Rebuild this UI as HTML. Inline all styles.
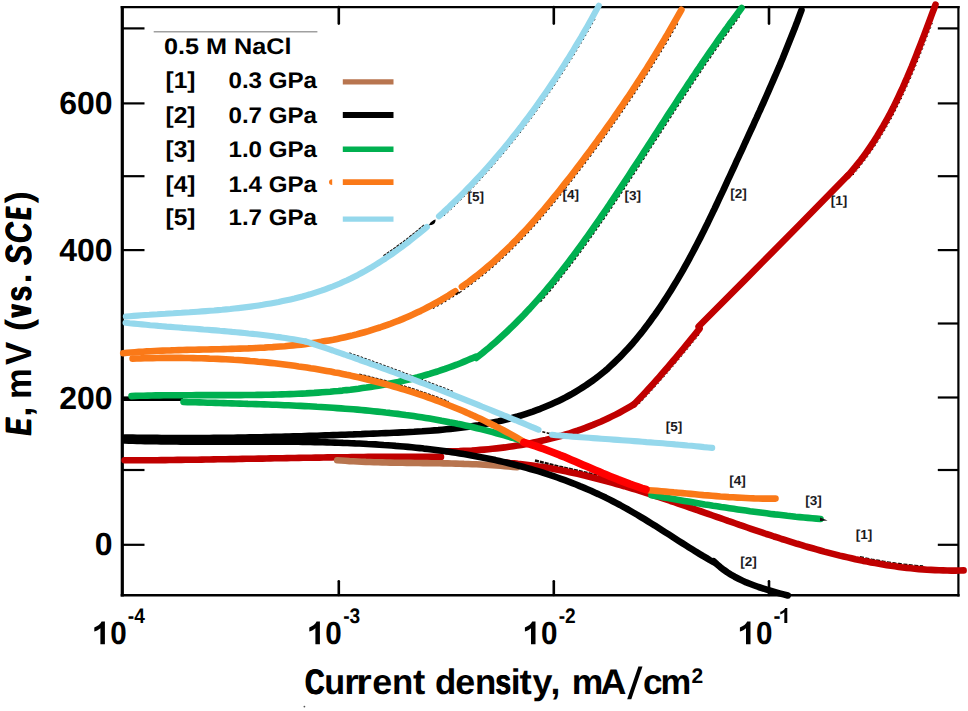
<!DOCTYPE html>
<html><head><meta charset="utf-8"><style>
html,body{margin:0;padding:0;background:#fff;}
body{width:968px;height:711px;overflow:hidden;font-family:"Liberation Sans",sans-serif;}
svg{display:block;}
</style></head><body>
<svg width="968" height="711" viewBox="0 0 968 711" text-rendering="geometricPrecision">
<rect width="968" height="711" fill="#fff"/>
<g stroke="#000" fill="none" stroke-linecap="butt">
<path d="M122.3 6 V596.5" stroke-width="3.2"/>
<path d="M120.7 7.1 H959.6" stroke-width="2.4"/>
<path d="M958.4 6 V596.5" stroke-width="2.2"/>
<path d="M120.7 595.2 H959.6" stroke-width="2.6"/>
<path d="M122 28.4 H144.5" stroke-width="2.2"/>
<path d="M937.8 28.4 H958.4" stroke-width="2.2"/>
<path d="M122 103.4 H144.5" stroke-width="2.2"/>
<path d="M937.8 103.4 H958.4" stroke-width="2.2"/>
<path d="M122 176.2 H144.5" stroke-width="2.2"/>
<path d="M937.8 176.2 H958.4" stroke-width="2.2"/>
<path d="M122 250.1 H144.5" stroke-width="2.2"/>
<path d="M937.8 250.1 H958.4" stroke-width="2.2"/>
<path d="M122 323.5 H144.5" stroke-width="2.2"/>
<path d="M937.8 323.5 H958.4" stroke-width="2.2"/>
<path d="M122 397.5 H144.5" stroke-width="2.2"/>
<path d="M937.8 397.5 H958.4" stroke-width="2.2"/>
<path d="M122 470.0 H144.5" stroke-width="2.2"/>
<path d="M937.8 470.0 H958.4" stroke-width="2.2"/>
<path d="M122 544.8 H144.5" stroke-width="2.2"/>
<path d="M937.8 544.8 H958.4" stroke-width="2.2"/>
<path d="M338.8 595 V581.3" stroke-width="2.6" stroke-linecap="round"/>
<path d="M338.8 7 V23.6" stroke-width="2.6" stroke-linecap="round"/>
<path d="M553.8 595 V581.3" stroke-width="2.6" stroke-linecap="round"/>
<path d="M553.8 7 V23.6" stroke-width="2.6" stroke-linecap="round"/>
<path d="M769.0 595 V581.3" stroke-width="2.6" stroke-linecap="round"/>
<path d="M769.0 7 V23.6" stroke-width="2.6" stroke-linecap="round"/>
<path d="M122 399.6 H183" stroke-width="3"/>
</g>
<path d="M153.7 31.8 H317.4" stroke="#a0a0a0" stroke-width="1.6"/>
<path d="M342.8 81.9 H393.5" stroke="#b8754f" stroke-width="5.2"/>
<path d="M342.8 115.0 H393.5" stroke="#000000" stroke-width="5.8"/>
<path d="M342.8 149.3 H393.5" stroke="#00b050" stroke-width="5.6"/>
<path d="M342.8 182.1 H393.5" stroke="#fa7918" stroke-width="5.6"/>
<path d="M342.8 219.2 H393.5" stroke="#95d8ec" stroke-width="5.2"/>
<path d="M332.2 179.2 A3.2 2.9 0 0 0 332.2 185 Z" fill="#fa7918"/>
<g fill="none" stroke-linecap="butt" stroke="#140a05">
<path d="M349.3 353.0 L353.1 354.3 L357.0 355.7 L360.8 357.0 L364.7 358.4 L368.5 359.8 L372.4 361.2 L376.2 362.6 L380.1 364.0 L383.9 365.4 L387.8 366.8 L391.6 368.2 L395.4 369.6 L399.3 371.0 L403.1 372.5 L406.9 373.9 L410.7 375.3 L414.6 376.8 L418.4 378.2 L422.2 379.7 L426.0 381.2 L429.8 382.6 L433.7 384.1 L437.5 385.6 L441.3 387.0 L445.1 388.5 L448.9 390.0 L452.7 391.5" stroke-width="1.4" stroke-dasharray="2.5 1.5"/>
<path d="M383.5 255.9 L386.8 253.7 L390.1 251.4 L393.3 249.2 L396.6 246.8 L399.8 244.5 L403.0 242.1 L406.2 239.7 L409.3 237.2 L412.4 234.7 L415.6 232.2 L418.7 229.7 L421.7 227.1 L424.8 224.5" stroke-width="1.6" stroke-dasharray="3 1"/>
<path d="M359.2 374.3 L363.2 375.2 L367.1 376.1 L371.1 377.1 L375.0 378.1 L379.0 379.1 L382.9 380.1 L386.8 381.2 L390.8 382.3 L394.7 383.4 L398.6 384.5 L402.5 385.7 L406.4 386.9 L410.3 388.1 L414.1 389.3 L418.0 390.6 L421.9 391.9 L425.7 393.2 L429.6 394.6 L433.4 395.9 L437.2 397.3 L441.1 398.8 L444.9 400.2 L448.7 401.7" stroke-width="1.6" stroke-dasharray="3 1.2"/>
<path d="M535.0 460.5 L560.0 466.8 L590.0 473.6 L612.0 479.6" stroke-width="2.5" stroke-dasharray="4 1"/>
<path d="M538.0 430.5 L548.0 433.2 L560.0 434.6 L580.0 436.6 L606.0 437.8" stroke-width="1.6" stroke-dasharray="3 1.5"/>
<path d="M540.4 301.9 L543.1 298.9 L545.7 295.8 L548.4 292.8 L551.0 289.7 L553.6 286.5 L556.1 283.4 L558.7 280.3 L561.2 277.1 L563.7 273.9 L566.2 270.7 L568.7 267.5 L571.2 264.3 L573.6 261.1 L576.1 257.8 L578.5 254.6 L580.9 251.3 L583.3 248.0 L585.7 244.8 L588.1 241.5 L590.4 238.2 L592.8 234.9 L595.1 231.5 L597.4 228.2 L599.8 224.9 L602.1 221.5 L604.4 218.2 L606.7 214.8 L609.0 211.5 L611.3 208.1 L613.5 204.7 L615.8 201.4 L618.1 198.0 L620.3 194.6 L622.6 191.2 L624.8 187.8 L627.0 184.5 L629.3 181.1 L631.5 177.7 L633.7 174.3 L636.0 170.9 L638.2 167.5 L640.4 164.0 L642.6 160.6 L644.8 157.2 L647.0 153.8 L649.2 150.4 L651.4 147.0 L653.6 143.6 L655.8 140.2 L658.1 136.8 L660.3 133.3 L662.5 129.9 L664.7 126.5 L666.9 123.1 L669.1 119.7 L671.3 116.3 L673.5 112.9 L675.7 109.5 L677.9 106.1 L680.1 102.7 L682.3 99.3 L684.6 96.0 L686.8 92.6 L689.0 89.2 L691.2 85.8 L693.5 82.5 L695.7 79.1 L698.0 75.7 L700.2 72.4 L702.5 69.0 L704.7 65.7 L707.0 62.4 L709.3 59.0 L711.6 55.7 L713.8 52.4 L716.1 49.1 L718.5 45.8 L720.8 42.5 L723.1 39.2 L725.4 35.9 L727.8 32.7 L730.1 29.4 L732.5 26.2 L734.8 22.9 L737.2 19.7 L739.6 16.5" stroke-width="1.3" stroke-dasharray="2.5 2"/>
<path d="M432.9 308.5 L436.4 306.6 L440.0 304.6 L443.5 302.6 L446.9 300.5 L450.4 298.4 L453.8 296.3 L457.2 294.1 L460.5 291.9 L463.9 289.6 L467.2 287.2 L470.4 284.9 L473.7 282.5 L476.9 280.0 L480.1 277.5 L483.2 275.0 L486.4 272.4 L489.5 269.8 L492.6 267.2 L495.6 264.5 L498.6 261.8 L501.7 259.0 L504.6 256.3 L507.6 253.5 L510.5 250.6 L513.4 247.8 L516.3 244.9 L519.2 242.0 L522.0 239.0 L524.8 236.0 L527.7 233.1 L530.4 230.0 L533.2 227.0 L535.9 224.0 L538.7 220.9 L541.4 217.8 L544.1 214.7 L546.7 211.6 L549.4 208.4 L552.0 205.3 L554.6 202.1 L557.2 198.9 L559.8 195.7 L562.4 192.5 L564.9 189.3 L567.5 186.1 L570.0 182.9 L572.5 179.6 L575.0 176.4 L577.5 173.2 L580.0 169.9 L582.5 166.7 L585.0 163.4 L587.4 160.2 L589.8 156.9 L592.3 153.6 L594.7 150.4 L597.1 147.1 L599.5 143.8 L601.9 140.6 L604.2 137.3 L606.6 134.0 L609.0 130.7 L611.3 127.4 L613.6 124.1 L615.9 120.8 L618.2 117.5 L620.5 114.2 L622.8 110.9 L625.1 107.5 L627.4 104.2 L629.6 100.9 L631.9 97.5 L634.1 94.2 L636.3 90.8 L638.5 87.5 L640.7 84.1 L642.9 80.7 L645.1 77.3 L647.3 73.9 L649.4 70.5 L651.6 67.1 L653.7 63.7 L655.8 60.3 L657.9 56.9 L660.0 53.4 L662.1 50.0 L664.2 46.5 L666.3 43.1 L668.3 39.6 L670.4 36.1 L672.4 32.6 L674.5 29.1 L676.5 25.6 L678.5 22.1" stroke-width="1.2" stroke-dasharray="2 2.5"/>
<path d="M444.1 215.9 L447.1 213.2 L450.1 210.4 L453.0 207.6 L456.0 204.8 L458.9 202.0 L461.8 199.1 L464.6 196.2 L467.5 193.3 L470.3 190.4 L473.2 187.5 L476.0 184.6 L478.7 181.6 L481.5 178.6 L484.2 175.6 L487.0 172.6 L489.7 169.6 L492.4 166.6 L495.1 163.5 L497.7 160.4 L500.3 157.3 L503.0 154.2 L505.6 151.1 L508.2 148.0 L510.7 144.8 L513.3 141.7 L515.8 138.5 L518.3 135.3 L520.8 132.1 L523.3 128.9 L525.8 125.7 L528.2 122.4 L530.7 119.2 L533.1 115.9 L535.5 112.7 L537.9 109.4 L540.2 106.1 L542.6 102.8 L544.9 99.5 L547.2 96.1 L549.5 92.8 L551.8 89.5 L554.1 86.1 L556.3 82.7 L558.5 79.4 L560.8 76.0 L562.9 72.6 L565.1 69.2 L567.3 65.8 L569.4 62.4 L571.6 59.0 L573.7 55.6 L575.8 52.1 L577.9 48.7 L579.9 45.3 L582.0 41.8 L584.0 38.4 L586.0 34.9 L588.1 31.5 L590.0 28.0 L592.0 24.5 L594.0 21.1 L595.9 17.6" stroke-width="1.0" stroke-dasharray="1.5 3"/>
<path d="M853.0 175.1 L855.7 171.9 L858.4 168.7 L861.0 165.4 L863.6 162.1 L866.1 158.8 L868.5 155.4 L870.9 152.0 L873.3 148.6 L875.6 145.1 L877.9 141.6 L880.1 138.1 L882.2 134.6 L884.4 131.0 L886.4 127.4 L888.5 123.8 L890.5 120.2 L892.5 116.5 L894.4 112.8 L896.3 109.1 L898.1 105.4 L900.0 101.7 L901.7 97.9 L903.5 94.2 L905.2 90.4 L907.0 86.6 L908.6 82.8 L910.3 79.0 L911.9 75.2 L913.5 71.4 L915.1 67.5 L916.7 63.7 L918.2 59.8 L919.8 56.0 L921.3 52.1 L922.8 48.3 L924.3 44.4 L925.8 40.5 L927.2 36.7 L928.7 32.8 L930.2 29.0 L931.6 25.1 L933.0 21.3" stroke-width="1.0" stroke-dasharray="1.5 3"/>
<path d="M639.3 403.9 L642.2 400.9 L645.0 397.8 L647.9 394.7 L650.8 391.7 L653.6 388.5 L656.4 385.4 L659.2 382.3 L662.0 379.1 L664.8 376.0 L667.5 372.8 L670.3 369.6 L673.0 366.4 L675.7 363.2 L678.4 360.0 L681.1 356.8 L683.8 353.6 L686.5 350.3 L689.1 347.1 L691.8 343.8 L694.4 340.6 L697.1 337.3 L699.7 334.1" stroke-width="1.0" stroke-dasharray="1.5 3"/>
<path d="M860.0 556.7 L863.9 557.5 L867.8 558.3 L871.7 559.1 L875.7 559.8 L879.6 560.5 L883.5 561.2 L887.4 561.8 L891.4 562.4 L895.3 563.0 L899.3 563.5 L903.2 564.0 L907.2 564.5 L911.2 564.9 L915.2 565.3 L919.1 565.7 L923.1 566.0" stroke-width="1.3" stroke-dasharray="4 1.5"/>
</g>
<g fill="none" stroke-linecap="round" stroke-linejoin="round">
<path d="M505.9 462.6 L510.0 463.0 L514.0 463.3 L518.0 463.8 L522.1 464.2 L526.1 464.7 L530.1 465.2 L534.1 465.8 L538.1 466.4 L542.0 467.0 L546.0 467.6 L550.0 468.3 L554.0 469.0 L557.9 469.8 L561.9 470.5 L565.8 471.3 L569.8 472.2 L573.7 473.0 L577.6 473.9 L581.5 474.8 L585.5 475.7 L589.4 476.7 L593.3 477.7 L597.2 478.7 L601.1 479.7 L605.0 480.7 L608.9 481.8 L612.7 482.9 L616.6 484.0 L620.5 485.1 L624.4 486.2 L628.2 487.4 L632.1 488.5 L636.0 489.7 L639.8 490.9 L643.7 492.1 L647.5 493.4 L651.4 494.6 L655.2 495.8 L659.1 497.1 L662.9 498.4 L666.8 499.7 L670.6 501.0 L674.4 502.2 L678.3 503.6 L682.1 504.9 L685.9 506.2 L689.8 507.5 L693.6 508.8 L697.4 510.2 L701.3 511.5 L705.1 512.8 L708.9 514.2 L712.7 515.5 L716.6 516.9 L720.4 518.2 L724.2 519.5 L728.0 520.9 L731.9 522.2 L735.7 523.5 L739.5 524.9 L743.4 526.2 L747.2 527.5 L751.0 528.8 L754.8 530.1 L758.7 531.4 L762.5 532.7 L766.3 534.0 L770.2 535.2 L774.0 536.5 L777.9 537.7 L781.7 539.0 L785.6 540.2 L789.4 541.4 L793.3 542.6 L797.1 543.8 L801.0 544.9 L804.8 546.1 L808.7 547.2 L812.6 548.3 L816.4 549.4 L820.3 550.5 L824.2 551.6 L828.1 552.6 L832.0 553.6 L835.9 554.6 L839.8 555.6 L843.7 556.5 L847.6 557.4 L851.5 558.3 L855.4 559.2 L859.3 560.0 L863.2 560.9 L867.2 561.6 L871.1 562.4 L875.1 563.1 L879.0 563.8 L883.0 564.5 L886.9 565.2 L890.9 565.8 L894.9 566.3 L898.8 566.9 L902.8 567.4 L906.8 567.9 L910.8 568.3 L914.8 568.7 L918.9 569.1 L922.9 569.4 L926.9 569.7 L931.0 569.9 L935.0 570.1 L939.1 570.3 L943.1 570.4 L947.2 570.5 L951.3 570.6 L955.4 570.6 L959.5 570.5 L963.6 570.4" stroke="#c00000" stroke-width="6.6"/>
<path d="M124.6 460.3 L128.7 460.3 L132.7 460.3 L136.8 460.3 L140.8 460.3 L144.9 460.3 L148.9 460.2 L153.0 460.2 L157.1 460.2 L161.1 460.1 L165.2 460.1 L169.2 460.0 L173.3 460.0 L177.3 459.9 L181.4 459.9 L185.4 459.8 L189.5 459.8 L193.6 459.7 L197.6 459.7 L201.7 459.6 L205.7 459.5 L209.8 459.5 L213.8 459.4 L217.9 459.3 L222.0 459.3 L226.0 459.2 L230.1 459.1 L234.1 459.1 L238.2 459.0 L242.2 458.9 L246.3 458.8 L250.4 458.8 L254.4 458.7 L258.5 458.6 L262.5 458.6 L266.6 458.5 L270.6 458.4 L274.7 458.3 L278.7 458.3 L282.8 458.2 L286.9 458.1 L290.9 458.0 L295.0 458.0 L299.0 457.9 L303.1 457.8 L307.1 457.8 L311.2 457.7 L315.3 457.6 L319.3 457.6 L323.4 457.5 L327.4 457.4 L331.5 457.4 L335.5 457.3 L339.6 457.3 L343.6 457.2 L347.7 457.2 L351.8 457.1 L355.8 457.1 L359.9 457.0 L363.9 457.0 L368.0 456.9 L372.0 456.9 L376.1 456.9 L380.2 456.9 L384.2 456.8 L388.3 456.8 L392.3 456.8 L396.4 456.8 L400.4 456.8 L404.5 456.8 L408.5 456.8 L412.6 456.8 L416.7 456.8 L420.7 456.8 L424.8 456.8 L428.8 456.8 L432.9 456.8 L436.9 456.9 L441.0 456.9" stroke="#c00000" stroke-width="6.6"/>
<path d="M447.0 451.4 L451.1 451.3 L455.3 451.2 L459.4 451.1 L463.6 450.9 L467.7 450.7 L471.8 450.5 L476.0 450.2 L480.1 449.9 L484.2 449.6 L488.4 449.2 L492.5 448.8 L496.6 448.4 L500.8 447.9 L504.9 447.4 L509.0 446.8 L513.1 446.2 L517.2 445.6 L521.3 444.9 L525.4 444.2 L529.5 443.4 L533.5 442.6 L537.6 441.7 L541.6 440.8 L545.7 439.9 L549.7 438.9 L553.7 437.9 L557.7 436.8 L561.7 435.7 L565.7 434.5 L569.6 433.3 L573.6 432.0 L577.5 430.7 L581.4 429.3 L585.3 427.9 L589.1 426.4 L593.0 424.9 L596.8 423.3 L600.6 421.7 L604.4 420.0 L608.2 418.2 L611.9 416.4 L615.6 414.6 L619.3 412.7 L623.0 410.7 L626.6 408.7 L630.2 406.6 L633.8 404.4" stroke="#c00000" stroke-width="6.6"/>
<path d="M633.8 404.5 L636.7 401.5 L639.6 398.5 L642.5 395.4 L645.3 392.4 L648.2 389.3 L651.0 386.2 L653.8 383.1 L656.6 380.0 L659.4 376.8 L662.1 373.7 L664.9 370.5 L667.6 367.3 L670.3 364.2 L673.0 361.0 L675.7 357.8 L678.4 354.5 L681.1 351.3 L683.8 348.1 L686.4 344.9 L689.1 341.6 L691.7 338.4 L694.4 335.1 L697.0 331.9 L699.6 328.6" stroke="#c00000" stroke-width="6.6"/>
<path d="M698.6 326.5 L747.5 277.3 L800.0 224.3 L847.5 175.8" stroke="#c00000" stroke-width="6.6"/>
<path d="M847.6 175.9 L850.3 172.8 L853.0 169.6 L855.7 166.4 L858.2 163.2 L860.8 160.0 L863.3 156.7 L865.7 153.4 L868.1 150.0 L870.4 146.6 L872.7 143.2 L874.9 139.7 L877.1 136.3 L879.2 132.8 L881.3 129.2 L883.4 125.7 L885.4 122.1 L887.4 118.5 L889.4 114.9 L891.3 111.2 L893.2 107.6 L895.0 103.9 L896.8 100.2 L898.6 96.4 L900.3 92.7 L902.1 89.0 L903.8 85.2 L905.4 81.4 L907.1 77.6 L908.7 73.8 L910.3 70.0 L911.9 66.2 L913.4 62.4 L915.0 58.5 L916.5 54.7 L918.0 50.8 L919.5 47.0 L921.0 43.1 L922.5 39.3 L924.0 35.4 L925.4 31.6 L926.9 27.7 L928.3 23.9 L929.8 20.0 L931.2 16.2 L932.6 12.4 L934.1 8.5 L935.5 4.7" stroke="#c00000" stroke-width="6.6"/>
<path d="M337.2 460.2 L341.3 460.5 L345.4 460.8 L349.5 461.1 L353.5 461.3 L357.6 461.5 L361.7 461.7 L365.8 461.9 L369.9 462.0 L374.0 462.2 L378.1 462.3 L382.2 462.4 L386.3 462.5 L390.3 462.6 L394.4 462.7 L398.5 462.7 L402.6 462.8 L406.7 462.9 L410.8 462.9 L414.9 463.0 L419.0 463.0 L423.1 463.1 L427.2 463.1 L431.3 463.2 L435.4 463.2 L439.5 463.3 L443.6 463.4 L447.7 463.4 L451.8 463.5 L455.8 463.6 L459.9 463.7 L464.0 463.9 L468.1 464.0 L472.2 464.2 L476.3 464.3 L480.4 464.5 L484.5 464.7 L488.6 465.0 L492.6 465.2 L496.7 465.5 L500.8 465.8 L504.9 466.2 L509.0 466.5 L513.0 466.9 L517.1 467.3" stroke="#b8754f" stroke-width="6.6"/>
<path d="M125.1 440.5 L129.0 440.7 L133.0 440.8 L137.0 440.9 L140.9 441.0 L144.9 441.1 L148.9 441.2 L152.9 441.2 L156.9 441.3 L160.9 441.4 L164.9 441.4 L168.9 441.5 L172.9 441.5 L176.9 441.5 L180.9 441.6 L184.9 441.6 L189.0 441.6 L193.0 441.6 L197.0 441.6 L201.0 441.6 L205.1 441.6 L209.1 441.6 L213.2 441.6 L217.2 441.6 L221.2 441.6 L225.3 441.6 L229.3 441.6 L233.4 441.6 L237.4 441.6 L241.5 441.6 L245.6 441.6 L249.6 441.6 L253.7 441.6 L257.7 441.6 L261.8 441.6 L265.9 441.6 L269.9 441.6 L274.0 441.6 L278.1 441.7 L282.1 441.7 L286.2 441.7 L290.3 441.7 L294.3 441.8 L298.4 441.8 L302.5 441.9 L306.6 441.9 L310.6 442.0 L314.7 442.1 L318.8 442.2 L322.8 442.3 L326.9 442.4 L331.0 442.5 L335.0 442.6 L339.1 442.7 L343.1 442.9 L347.2 443.0 L351.3 443.2 L355.3 443.4 L359.4 443.5 L363.4 443.7 L367.5 444.0 L371.5 444.2 L375.6 444.4 L379.6 444.7 L383.7 445.0 L387.7 445.2 L391.7 445.5 L395.8 445.9 L399.8 446.2 L403.8 446.5 L407.9 446.9 L411.9 447.3 L415.9 447.7 L419.9 448.1 L423.9 448.6 L427.9 449.0 L431.9 449.5 L435.9 450.0 L439.9 450.5 L443.9 451.0 L447.9 451.6 L451.9 452.2 L455.9 452.8 L459.9 453.4 L463.8 454.1 L467.8 454.7 L471.7 455.4 L475.7 456.2 L479.6 456.9 L483.6 457.7 L487.5 458.5 L491.5 459.3 L495.4 460.1 L499.3 461.0 L503.2 461.9 L507.1 462.8 L511.0 463.8 L514.9 464.8 L518.8 465.8 L522.7 466.8 L526.6 467.9 L530.4 469.0 L534.3 470.1 L538.1 471.2 L542.0 472.4 L545.8 473.7 L549.6 474.9 L553.5 476.2 L557.3 477.5 L561.0 478.8 L564.8 480.2 L568.6 481.6 L572.4 483.1 L576.1 484.5 L579.8 486.1 L583.6 487.6 L587.3 489.2 L591.0 490.8 L594.6 492.5 L598.3 494.1 L602.0 495.9 L605.6 497.6 L609.2 499.4 L612.8 501.2 L616.4 503.1 L620.0 505.0 L623.5 507.0 L627.0 508.9 L630.6 511.0 L634.1 513.0 L637.6 515.0 L641.0 517.1 L644.5 519.2 L648.0 521.4 L651.4 523.5 L654.9 525.6 L658.3 527.8 L661.7 530.0 L665.2 532.2 L668.6 534.3 L672.0 536.5 L675.4 538.7 L678.8 540.9 L682.3 543.1 L685.7 545.2 L689.1 547.4 L692.5 549.5 L695.9 551.7 L699.4 553.8 L702.8 555.9 L706.3 557.9 L709.7 560.0 L713.2 562.0" stroke="#000000" stroke-width="6.6"/>
<path d="M713.6 561.3 L716.9 564.3 L720.2 567.1 L723.7 569.8 L727.2 572.3 L730.9 574.6 L734.6 576.7 L738.5 578.7 L742.4 580.6 L746.3 582.4 L750.4 584.0 L754.4 585.5 L758.6 587.0 L762.7 588.3 L766.9 589.6 L771.1 590.9 L775.3 592.1 L779.5 593.3 L783.6 594.4 L787.8 595.5" stroke="#000000" stroke-width="6.6"/>
<path d="M124.7 437.5 L128.8 437.5 L132.9 437.6 L137.0 437.7 L141.1 437.7 L145.1 437.8 L149.2 437.8 L153.3 437.9 L157.3 437.9 L161.4 438.0 L165.4 438.0 L169.5 438.0 L173.5 438.0 L177.5 438.0 L181.5 438.0 L185.6 438.1 L189.6 438.0 L193.6 438.0 L197.6 438.0 L201.6 438.0 L205.6 438.0 L209.6 438.0 L213.6 437.9 L217.6 437.9 L221.6 437.8 L225.6 437.8 L229.6 437.7 L233.6 437.7 L237.6 437.6 L241.6 437.6 L245.5 437.5 L249.5 437.4 L253.5 437.4 L257.5 437.3 L261.5 437.2 L265.4 437.1 L269.4 437.0 L273.4 436.9 L277.4 436.8 L281.4 436.7 L285.3 436.6 L289.3 436.5 L293.3 436.4 L297.3 436.3 L301.3 436.2 L305.3 436.0 L309.2 435.9 L313.2 435.8 L317.2 435.7 L321.2 435.5 L325.2 435.4 L329.2 435.3 L333.2 435.1 L337.2 435.0 L341.2 434.8 L345.2 434.7 L349.2 434.5 L353.3 434.4 L357.3 434.2 L361.3 434.1 L365.3 433.9 L369.4 433.8 L373.4 433.6 L377.4 433.5 L381.5 433.3 L385.5 433.1 L389.6 433.0 L393.7 432.8 L397.7 432.6 L401.8 432.4 L405.8 432.2 L409.9 432.0 L414.0 431.8 L418.0 431.5 L422.1 431.3 L426.2 431.0 L430.2 430.7 L434.3 430.4 L438.3 430.1 L442.4 429.7 L446.4 429.3 L450.5 428.9 L454.5 428.5 L458.5 428.0 L462.5 427.5 L466.5 427.0 L470.5 426.4 L474.5 425.8 L478.5 425.2 L482.5 424.5 L486.4 423.8 L490.4 423.0 L494.3 422.2 L498.2 421.4 L502.1 420.5 L506.0 419.6 L509.9 418.6 L513.8 417.5 L517.6 416.5 L521.4 415.3 L525.3 414.1 L529.0 412.9 L532.8 411.6 L536.6 410.2 L540.3 408.8 L544.0 407.3 L547.6 405.8 L551.3 404.2 L554.9 402.6 L558.5 400.9 L562.0 399.2 L565.6 397.4 L569.1 395.5 L572.5 393.6 L575.9 391.6 L579.3 389.5 L582.7 387.4 L586.0 385.3 L589.2 383.0 L592.5 380.7 L595.7 378.4 L598.8 376.0 L601.9 373.5 L605.0 371.0 L608.0 368.4 L610.9 365.7 L613.8 363.0 L616.7 360.2 L619.6 357.4 L622.4 354.5 L625.1 351.6 L627.8 348.7 L630.5 345.7 L633.2 342.7 L635.8 339.6 L638.3 336.5 L640.9 333.3 L643.4 330.2 L645.8 327.0 L648.3 323.8 L650.7 320.5 L653.0 317.2 L655.4 314.0 L657.7 310.7 L660.0 307.3 L662.2 304.0 L664.4 300.6 L666.6 297.2 L668.8 293.8 L670.9 290.4 L673.0 287.0 L675.1 283.6 L677.2 280.1 L679.2 276.6 L681.3 273.1 L683.3 269.6 L685.2 266.1 L687.2 262.6 L689.1 259.1 L691.0 255.5 L692.9 252.0 L694.8 248.4 L696.7 244.8 L698.5 241.2 L700.4 237.6 L702.2 234.0 L704.0 230.4 L705.8 226.8 L707.6 223.2 L709.3 219.6 L711.1 215.9 L712.8 212.3 L714.6 208.7 L716.3 205.0 L718.0 201.4 L719.7 197.7 L721.4 194.1 L723.2 190.4 L724.8 186.8 L726.5 183.1 L728.2 179.4 L729.9 175.8 L731.6 172.1 L733.3 168.5 L735.0 164.8 L736.6 161.2 L738.3 157.6 L740.0 153.9 L741.7 150.3 L743.4 146.6 L745.0 143.0 L746.7 139.4 L748.4 135.7 L750.0 132.1 L751.7 128.5 L753.4 124.8 L755.0 121.2 L756.7 117.6 L758.3 113.9 L760.0 110.3 L761.6 106.7 L763.3 103.0 L764.9 99.4 L766.5 95.7 L768.1 92.1 L769.7 88.4 L771.3 84.7 L772.9 81.1 L774.5 77.4 L776.1 73.7 L777.7 70.0 L779.3 66.4 L780.8 62.7 L782.4 59.0 L783.9 55.3 L785.4 51.5 L786.9 47.8 L788.4 44.1 L789.9 40.3 L791.4 36.6 L792.9 32.8 L794.4 29.1 L795.8 25.3 L797.3 21.5 L798.7 17.7 L800.1 13.9 L801.5 10.1" stroke="#000000" stroke-width="6.6"/>
<path d="M183.5 401.9 L187.5 402.1 L191.5 402.2 L195.5 402.3 L199.5 402.4 L203.5 402.5 L207.6 402.7 L211.6 402.8 L215.6 402.9 L219.7 403.0 L223.7 403.1 L227.7 403.3 L231.8 403.4 L235.8 403.5 L239.9 403.6 L243.9 403.7 L247.9 403.9 L252.0 404.0 L256.0 404.1 L260.1 404.3 L264.2 404.4 L268.2 404.5 L272.3 404.7 L276.3 404.8 L280.4 405.0 L284.4 405.2 L288.5 405.3 L292.5 405.5 L296.6 405.7 L300.7 405.9 L304.7 406.1 L308.8 406.3 L312.8 406.5 L316.9 406.8 L320.9 407.0 L325.0 407.2 L329.0 407.5 L333.1 407.8 L337.1 408.1 L341.2 408.4 L345.2 408.7 L349.3 409.0 L353.3 409.3 L357.4 409.6 L361.4 410.0 L365.4 410.4 L369.5 410.8 L373.5 411.2 L377.5 411.6 L381.6 412.0 L385.6 412.5 L389.6 412.9 L393.6 413.4 L397.7 413.9 L401.7 414.4 L405.7 415.0 L409.7 415.5 L413.7 416.1 L417.7 416.7 L421.7 417.3 L425.7 417.9 L429.7 418.6 L433.6 419.2 L437.6 419.9 L441.6 420.7 L445.6 421.4 L449.5 422.2 L453.5 422.9 L457.4 423.8 L461.4 424.6 L465.3 425.4 L469.3 426.3 L473.2 427.2 L477.1 428.2 L481.0 429.1 L484.9 430.1 L488.8 431.1 L492.7 432.1 L496.6 433.2 L500.5 434.3 L504.4 435.4 L508.3 436.6 L512.2 437.7 L516.0 438.9 L519.9 440.2" stroke="#00b050" stroke-width="6.6"/>
<path d="M131.5 396.1 L135.5 395.9 L139.6 395.8 L143.6 395.7 L147.6 395.6 L151.6 395.5 L155.6 395.4 L159.7 395.4 L163.7 395.3 L167.7 395.3 L171.8 395.2 L175.8 395.2 L179.9 395.2 L183.9 395.2 L188.0 395.2 L192.0 395.2 L196.1 395.1 L200.2 395.1 L204.2 395.1 L208.3 395.1 L212.4 395.1 L216.4 395.1 L220.5 395.1 L224.6 395.1 L228.7 395.1 L232.7 395.1 L236.8 395.1 L240.9 395.1 L245.0 395.0 L249.0 395.0 L253.1 395.0 L257.2 394.9 L261.3 394.9 L265.3 394.8 L269.4 394.7 L273.5 394.6 L277.6 394.5 L281.6 394.4 L285.7 394.3 L289.8 394.1 L293.8 394.0 L297.9 393.8 L302.0 393.6 L306.0 393.4 L310.1 393.1 L314.1 392.9 L318.2 392.6 L322.2 392.3 L326.3 392.0 L330.3 391.7 L334.3 391.3 L338.4 391.0 L342.4 390.6 L346.4 390.1 L350.5 389.7 L354.5 389.2 L358.5 388.7 L362.5 388.1 L366.5 387.6 L370.5 387.0 L374.5 386.3 L378.4 385.7 L382.4 385.0 L386.4 384.3 L390.4 383.5 L394.3 382.7 L398.3 381.9 L402.2 381.0 L406.2 380.1 L410.1 379.2 L414.0 378.2 L417.9 377.2 L421.8 376.1 L425.7 375.0 L429.6 373.9 L433.5 372.7 L437.4 371.5 L441.2 370.2 L445.1 368.9 L448.9 367.5 L452.8 366.1 L456.6 364.7 L460.4 363.2 L464.2 361.6 L468.0 360.0 L471.8 358.4 L475.6 356.7" stroke="#00b050" stroke-width="6.6"/>
<path d="M476.3 357.9 L479.5 355.4 L482.7 352.9 L485.8 350.3 L489.0 347.7 L492.0 345.1 L495.1 342.4 L498.1 339.7 L501.1 337.0 L504.1 334.3 L507.1 331.5 L510.0 328.7 L512.9 325.9 L515.7 323.1 L518.6 320.2 L521.4 317.4 L524.2 314.5 L526.9 311.5 L529.7 308.6 L532.4 305.6 L535.1 302.6 L537.8 299.6 L540.4 296.6 L543.1 293.6 L545.7 290.5 L548.3 287.4 L550.9 284.3 L553.4 281.2 L556.0 278.1 L558.5 274.9 L561.0 271.8 L563.5 268.6 L565.9 265.4 L568.4 262.2 L570.8 259.0 L573.3 255.7 L575.7 252.5 L578.1 249.2 L580.5 246.0 L582.9 242.7 L585.2 239.4 L587.6 236.1 L589.9 232.8 L592.3 229.5 L594.6 226.2 L596.9 222.9 L599.2 219.5 L601.5 216.2 L603.8 212.9 L606.1 209.5 L608.4 206.2 L610.6 202.8 L612.9 199.4 L615.1 196.1 L617.4 192.7 L619.6 189.3 L621.9 185.9 L624.1 182.5 L626.4 179.1 L628.6 175.7 L630.8 172.3 L633.0 168.9 L635.2 165.5 L637.5 162.1 L639.7 158.7 L641.9 155.3 L644.1 151.9 L646.3 148.5 L648.5 145.1 L650.7 141.7 L652.9 138.3 L655.1 134.9 L657.3 131.5 L659.5 128.0 L661.7 124.6 L663.9 121.2 L666.1 117.8 L668.3 114.4 L670.5 111.0 L672.8 107.6 L675.0 104.2 L677.2 100.8 L679.4 97.4 L681.6 94.0 L683.9 90.6 L686.1 87.3 L688.3 83.9 L690.6 80.5 L692.8 77.1 L695.1 73.8 L697.3 70.4 L699.6 67.1 L701.8 63.7 L704.1 60.4 L706.4 57.0 L708.7 53.7 L711.0 50.4 L713.3 47.1 L715.6 43.8 L717.9 40.5 L720.2 37.2 L722.6 33.9 L724.9 30.6 L727.3 27.4 L729.6 24.1 L732.0 20.9 L734.4 17.6 L736.8 14.4 L739.2 11.2 L741.6 8.0" stroke="#00b050" stroke-width="6.6"/>
<path d="M651.4 495.2 L655.5 495.9 L659.6 496.6 L663.7 497.4 L667.8 498.1 L671.9 498.8 L676.0 499.5 L680.1 500.2 L684.2 500.9 L688.3 501.6 L692.5 502.3 L696.6 503.0 L700.7 503.7 L704.8 504.4 L708.9 505.0 L713.0 505.7 L717.1 506.3 L721.2 507.0 L725.4 507.6 L729.5 508.2 L733.6 508.8 L737.7 509.4 L741.9 510.0 L746.0 510.6 L750.1 511.2 L754.2 511.7 L758.4 512.3 L762.5 512.8 L766.6 513.3 L770.8 513.9 L774.9 514.4 L779.0 514.8 L783.2 515.3 L787.3 515.8 L791.5 516.2 L795.6 516.7 L799.7 517.1 L803.9 517.5 L808.0 517.9 L812.2 518.3 L816.3 518.6 L820.5 519.0" stroke="#00b050" stroke-width="6.6"/>
<path d="M132.6 358.6 L136.6 358.5 L140.7 358.4 L144.7 358.2 L148.7 358.1 L152.8 358.1 L156.8 358.0 L160.9 357.9 L164.9 357.9 L169.0 357.9 L173.0 357.9 L177.1 357.9 L181.1 357.9 L185.2 358.0 L189.3 358.0 L193.3 358.1 L197.4 358.2 L201.4 358.3 L205.5 358.4 L209.6 358.6 L213.6 358.7 L217.7 358.9 L221.7 359.1 L225.8 359.3 L229.9 359.5 L233.9 359.8 L238.0 360.0 L242.0 360.3 L246.1 360.6 L250.1 361.0 L254.2 361.3 L258.3 361.7 L262.3 362.0 L266.3 362.4 L270.4 362.9 L274.4 363.3 L278.5 363.8 L282.5 364.2 L286.5 364.7 L290.6 365.3 L294.6 365.8 L298.6 366.4 L302.6 366.9 L306.7 367.5 L310.7 368.2 L314.7 368.8 L318.7 369.5 L322.7 370.2 L326.7 370.9 L330.7 371.6 L334.7 372.4 L338.7 373.1 L342.6 373.9 L346.6 374.8 L350.6 375.6 L354.5 376.5 L358.5 377.4 L362.4 378.3 L366.4 379.2 L370.3 380.2 L374.2 381.2 L378.2 382.2 L382.1 383.2 L386.0 384.3 L389.9 385.4 L393.8 386.5 L397.7 387.6 L401.6 388.8 L405.4 389.9 L409.3 391.2 L413.2 392.4 L417.0 393.6 L420.8 394.9 L424.7 396.2 L428.5 397.6 L432.3 398.9 L436.1 400.3 L439.9 401.7 L443.7 403.2 L447.5 404.7 L451.3 406.2 L455.0 407.7 L458.8 409.2 L462.5 410.8 L466.2 412.4 L469.9 414.1 L473.7 415.7 L477.3 417.4 L481.0 419.1 L484.7 420.9 L488.4 422.7 L492.0 424.5 L495.7 426.3 L499.3 428.2 L502.9 430.0 L506.5 432.0 L510.1 433.9 L513.7 435.9 L517.2 437.9 L520.8 440.0 L524.3 442.0" stroke="#fa7918" stroke-width="6.6"/>
<path d="M123.2 353.2 L127.1 352.8 L131.0 352.5 L134.9 352.2 L138.9 351.9 L142.8 351.7 L146.8 351.4 L150.7 351.2 L154.7 351.0 L158.7 350.8 L162.7 350.6 L166.7 350.5 L170.7 350.4 L174.7 350.2 L178.8 350.1 L182.8 350.0 L186.9 349.9 L190.9 349.8 L195.0 349.7 L199.0 349.6 L203.1 349.5 L207.2 349.5 L211.2 349.4 L215.3 349.3 L219.4 349.2 L223.5 349.1 L227.6 349.0 L231.7 348.9 L235.8 348.8 L239.9 348.6 L244.0 348.5 L248.0 348.4 L252.1 348.2 L256.2 348.0 L260.3 347.8 L264.4 347.6 L268.5 347.3 L272.6 347.1 L276.6 346.8 L280.7 346.5 L284.8 346.2 L288.9 345.8 L292.9 345.4 L297.0 345.0 L301.0 344.6 L305.1 344.1 L309.1 343.6 L313.1 343.0 L317.1 342.4 L321.1 341.8 L325.1 341.1 L329.1 340.4 L333.1 339.7 L337.1 338.9 L341.0 338.1 L345.0 337.2 L348.9 336.3 L352.8 335.4 L356.7 334.4 L360.6 333.3 L364.5 332.2 L368.4 331.1 L372.2 329.9 L376.0 328.7 L379.9 327.5 L383.7 326.2 L387.4 324.9 L391.2 323.5 L394.9 322.0 L398.7 320.6 L402.4 319.1 L406.1 317.5 L409.7 315.9 L413.4 314.3 L417.0 312.6 L420.6 310.9 L424.2 309.1 L427.7 307.3 L431.3 305.4 L434.8 303.5 L438.2 301.6 L441.7 299.6 L445.1 297.5 L448.5 295.5 L451.9 293.3 L455.3 291.2 M461.9 286.7 L465.1 284.4 L468.4 282.1 L471.6 279.7 L474.8 277.2 L477.9 274.8 L481.0 272.3 L484.1 269.7 L487.2 267.1 L490.3 264.5 L493.3 261.9 L496.3 259.2 L499.3 256.5 L502.2 253.7 L505.2 250.9 L508.1 248.1 L511.0 245.3 L513.8 242.4 L516.7 239.5 L519.5 236.6 L522.3 233.6 L525.1 230.7 L527.9 227.7 L530.6 224.7 L533.3 221.6 L536.0 218.6 L538.7 215.5 L541.4 212.4 L544.1 209.3 L546.7 206.2 L549.3 203.0 L551.9 199.9 L554.5 196.7 L557.1 193.5 L559.7 190.3 L562.2 187.1 L564.7 183.9 L567.3 180.7 L569.8 177.5 L572.3 174.3 L574.8 171.0 L577.2 167.8 L579.7 164.6 L582.2 161.3 L584.6 158.1 L587.0 154.8 L589.5 151.6 L591.9 148.3 L594.3 145.0 L596.7 141.8 L599.0 138.5 L601.4 135.2 L603.8 132.0 L606.1 128.7 L608.4 125.4 L610.8 122.1 L613.1 118.8 L615.4 115.5 L617.7 112.2 L619.9 108.9 L622.2 105.6 L624.5 102.2 L626.7 98.9 L629.0 95.6 L631.2 92.2 L633.4 88.9 L635.6 85.5 L637.8 82.2 L640.0 78.8 L642.2 75.4 L644.3 72.1 L646.5 68.7 L648.6 65.3 L650.7 61.9 L652.8 58.5 L655.0 55.0 L657.1 51.6 L659.1 48.2 L661.2 44.7 L663.3 41.3 L665.3 37.8 L667.4 34.4 L669.4 30.9 L671.4 27.4 L673.4 23.9 L675.4 20.4 L677.4 16.9 L679.4 13.3 L681.4 9.8" stroke="#fa7918" stroke-width="6.6"/>
<path d="M648.6 490.2 L652.8 490.5 L657.1 490.9 L661.3 491.2 L665.5 491.6 L669.7 492.0 L673.9 492.4 L678.2 492.7 L682.4 493.1 L686.6 493.5 L690.8 493.9 L695.1 494.3 L699.3 494.7 L703.5 495.1 L707.7 495.4 L712.0 495.8 L716.2 496.1 L720.4 496.5 L724.7 496.8 L728.9 497.1 L733.1 497.3 L737.4 497.6 L741.6 497.8 L745.8 498.0 L750.1 498.2 L754.3 498.4 L758.5 498.5 L762.8 498.6 L767.0 498.6 L771.3 498.6 L775.5 498.6" stroke="#fa7918" stroke-width="6.6"/>
<path d="M523.9 442.4 L528.0 443.6 L532.0 444.9 L536.0 446.2 L540.0 447.6 L544.0 449.0 L547.9 450.5 L551.9 452.0 L555.8 453.5 L559.7 455.1 L563.7 456.6 L567.6 458.3 L571.5 459.9 L575.3 461.5 L579.2 463.2 L583.1 464.9 L587.0 466.5 L590.9 468.2 L594.8 469.9 L598.7 471.5 L602.5 473.2 L606.4 474.8 L610.3 476.4 L614.3 478.0 L618.2 479.6 L622.1 481.1 L626.1 482.6 L630.0 484.1 L634.0 485.5 L638.0 486.9 L642.0 488.3 L646.0 489.5" stroke="#ff0000" stroke-width="7.6"/>
<path d="M125.6 322.7 L129.7 323.2 L133.8 323.6 L137.9 324.0 L142.0 324.4 L146.1 324.8 L150.2 325.2 L154.3 325.5 L158.4 325.9 L162.5 326.2 L166.6 326.6 L170.7 326.9 L174.8 327.2 L178.9 327.5 L183.0 327.9 L187.1 328.2 L191.2 328.5 L195.3 328.8 L199.4 329.1 L203.5 329.5 L207.6 329.8 L211.7 330.1 L215.8 330.4 L219.9 330.8 L224.0 331.1 L228.1 331.5 L232.2 331.9 L236.3 332.2 L240.4 332.6 L244.5 333.0 L248.6 333.5 L252.7 333.9 L256.8 334.3 L260.9 334.8 L265.0 335.3 L269.1 335.8 L273.2 336.3 L277.2 336.9 L281.3 337.4 L285.4 338.0 L289.5 338.7 L293.5 339.3 L297.6 340.0 L301.6 340.7 L305.7 341.4" stroke="#95d8ec" stroke-width="6.1"/>
<path d="M305.7 341.5 L309.6 342.7 L313.4 344.0 L317.3 345.3 L321.2 346.6 L325.1 347.9 L328.9 349.2 L332.8 350.5 L336.7 351.9 L340.5 353.2 L344.4 354.5 L348.2 355.9 L352.1 357.2 L356.0 358.6 L359.8 360.0 L363.6 361.3 L367.5 362.7 L371.3 364.1 L375.2 365.5 L379.0 366.9 L382.9 368.3 L386.7 369.7 L390.5 371.1 L394.4 372.5 L398.2 373.9 L402.0 375.4 L405.8 376.8 L409.7 378.2 L413.5 379.7 L417.3 381.1 L421.1 382.6 L424.9 384.0 L428.7 385.5 L432.5 387.0 L436.4 388.5 L440.2 389.9 L444.0 391.4 L447.8 392.9 L451.6 394.4 L455.4 395.9 L459.2 397.4 L463.0 398.9 L466.7 400.4 L470.5 401.9 L474.3 403.4 L478.1 404.9 L481.9 406.5 L485.7 408.0 L489.5 409.5 L493.3 411.1 L497.0 412.6 L500.8 414.1 L504.6 415.7 L508.4 417.2 L512.1 418.8 L515.9 420.3 L519.7 421.9 L523.5 423.4 L527.2 425.0 L531.0 426.6 L534.8 428.1 L538.5 429.7" stroke="#95d8ec" stroke-width="6.1"/>
<path d="M552.0 434.8 L556.1 435.2 L560.2 435.5 L564.3 435.9 L568.4 436.2 L572.5 436.6 L576.6 436.9 L580.7 437.2 L584.9 437.5 L589.0 437.8 L593.1 438.1 L597.2 438.4 L601.3 438.7 L605.4 439.0 L609.5 439.3 L613.6 439.6 L617.7 439.9 L621.9 440.2 L626.0 440.5 L630.1 440.8 L634.2 441.1 L638.3 441.4 L642.4 441.7 L646.5 442.1 L650.6 442.4 L654.7 442.7 L658.8 443.0 L662.9 443.3 L667.1 443.7 L671.2 444.0 L675.3 444.4 L679.4 444.7 L683.5 445.1 L687.6 445.5 L691.7 445.8 L695.8 446.2 L699.9 446.6 L704.0 447.1 L708.1 447.5 L712.2 447.9" stroke="#95d8ec" stroke-width="6.1"/>
<path d="M125.9 316.5 L129.7 316.2 L133.6 315.9 L137.5 315.6 L141.4 315.3 L145.4 315.0 L149.3 314.8 L153.3 314.5 L157.3 314.3 L161.3 314.0 L165.3 313.8 L169.3 313.5 L173.3 313.3 L177.4 313.0 L181.4 312.8 L185.5 312.5 L189.5 312.3 L193.6 312.0 L197.7 311.7 L201.7 311.4 L205.8 311.1 L209.9 310.8 L214.0 310.5 L218.1 310.1 L222.1 309.8 L226.2 309.4 L230.3 309.0 L234.4 308.5 L238.4 308.1 L242.5 307.6 L246.6 307.1 L250.6 306.6 L254.7 306.0 L258.7 305.4 L262.7 304.8 L266.7 304.1 L270.7 303.4 L274.7 302.7 L278.7 302.0 L282.7 301.1 L286.6 300.3 L290.6 299.4 L294.5 298.5 L298.4 297.5 L302.3 296.5 L306.2 295.4 L310.0 294.3 L313.8 293.1 L317.6 291.9 L321.4 290.7 L325.2 289.3 L328.9 287.9 L332.6 286.5 L336.3 285.0 L340.0 283.5 L343.6 281.8 L347.2 280.2 L350.8 278.5 L354.3 276.7 L357.9 274.9 L361.4 273.0 L364.9 271.1 L368.3 269.1 L371.8 267.1 L375.2 265.0 L378.6 262.9 L381.9 260.8 L385.3 258.6 L388.6 256.3 L391.9 254.1 L395.2 251.8 L398.5 249.4 L401.7 247.1 L404.9 244.6 L408.1 242.2 L411.3 239.7 L414.4 237.2 L417.6 234.7 L420.7 232.1 L423.8 229.6 L426.9 226.9 M439.0 216.3 L442.0 213.6 L444.9 210.8 L447.9 208.1 L450.8 205.3 L453.7 202.5 L456.6 199.7 L459.5 196.8 L462.4 194.0 L465.2 191.1 L468.0 188.2 L470.8 185.3 L473.6 182.4 L476.4 179.4 L479.1 176.5 L481.9 173.5 L484.6 170.5 L487.3 167.5 L490.0 164.4 L492.6 161.4 L495.3 158.3 L497.9 155.3 L500.5 152.2 L503.1 149.1 L505.7 146.0 L508.3 142.8 L510.8 139.7 L513.3 136.5 L515.8 133.3 L518.3 130.2 L520.8 127.0 L523.2 123.7 L525.7 120.5 L528.1 117.3 L530.5 114.0 L532.9 110.8 L535.3 107.5 L537.6 104.2 L540.0 100.9 L542.3 97.6 L544.6 94.3 L546.9 91.0 L549.1 87.7 L551.4 84.3 L553.6 81.0 L555.9 77.6 L558.1 74.2 L560.3 70.9 L562.4 67.5 L564.6 64.1 L566.7 60.7 L568.9 57.3 L571.0 53.9 L573.1 50.5 L575.1 47.1 L577.2 43.6 L579.2 40.2 L581.3 36.8 L583.3 33.3 L585.3 29.9 L587.3 26.4 L589.2 23.0 L591.2 19.5 L593.1 16.0 L595.0 12.6 L596.9 9.1 L598.8 5.6" stroke="#95d8ec" stroke-width="6.1"/>
</g>
<path d="M428.8 225.2 C430.5 221.5 433.5 220.2 435.6 219.6 C435.8 222.5 434.2 224.6 431.6 224.9 Z" fill="#000"/>
<path d="M455.6 294.6 L458.2 292.6 L460 292.8" stroke="#1a0a00" stroke-width="1.6" fill="none"/>
<path d="M820 517.6 L827.6 520.6 L820 521 Z" fill="#111"/>
<circle cx="304.4" cy="706.6" r="0.9" fill="#555"/>
<g font-family="Liberation Sans, sans-serif" font-weight="bold" fill="#000">
<text x="112.6" y="113.6" font-size="32" text-anchor="end">600</text>
<text x="112.6" y="260.5" font-size="32" text-anchor="end">400</text>
<text x="112.6" y="408.5" font-size="32" text-anchor="end">200</text>
<text x="112.6" y="555.1" font-size="32" text-anchor="end">0</text>
<path d="M10.6 22.6 V0 H7.3 C6.3 2.6 3.5 4.7 0 5.8 V9.8 C2.3 9.2 4.5 8 6.1 6.6 V22.6 Z" transform="translate(94.3 621.6)" fill="#000"/>
<text x="110.3" y="643.9" font-size="32" textLength="16.5" lengthAdjust="spacingAndGlyphs">0</text>
<path d="M10.6 22.6 V0 H7.3 C6.3 2.6 3.5 4.7 0 5.8 V9.8 C2.3 9.2 4.5 8 6.1 6.6 V22.6 Z" transform="translate(309.3 621.6)" fill="#000"/>
<text x="325.3" y="643.9" font-size="32" textLength="16.5" lengthAdjust="spacingAndGlyphs">0</text>
<path d="M10.6 22.6 V0 H7.3 C6.3 2.6 3.5 4.7 0 5.8 V9.8 C2.3 9.2 4.5 8 6.1 6.6 V22.6 Z" transform="translate(524.9 621.6)" fill="#000"/>
<text x="540.9" y="643.9" font-size="32" textLength="16.5" lengthAdjust="spacingAndGlyphs">0</text>
<path d="M10.6 22.6 V0 H7.3 C6.3 2.6 3.5 4.7 0 5.8 V9.8 C2.3 9.2 4.5 8 6.1 6.6 V22.6 Z" transform="translate(739.9 621.6)" fill="#000"/>
<text x="755.9" y="643.9" font-size="32" textLength="16.5" lengthAdjust="spacingAndGlyphs">0</text>
<text x="127.8" y="622.8" font-size="21" textLength="17" lengthAdjust="spacingAndGlyphs">-4</text>
<text x="343.2" y="622.8" font-size="21" textLength="17" lengthAdjust="spacingAndGlyphs">-3</text>
<text x="558.7" y="622.8" font-size="21" textLength="17" lengthAdjust="spacingAndGlyphs">-2</text>
<text x="773.6" y="622.8" font-size="21">-</text>
<path d="M10.6 22.6 V0 H7.3 C6.3 2.6 3.5 4.7 0 5.8 V9.8 C2.3 9.2 4.5 8 6.1 6.6 V22.6 Z" transform="translate(780.3 608) scale(0.66)" fill="#000"/>
<text x="304.40" y="694.4" font-size="35.5" textLength="19.31" lengthAdjust="spacingAndGlyphs">C</text>
<text x="305.04" y="694.4" font-size="35.5" textLength="19.31" lengthAdjust="spacingAndGlyphs">C</text>
<text x="305.67" y="694.4" font-size="35.5" textLength="19.31" lengthAdjust="spacingAndGlyphs">C</text>
<text x="324.20" y="694.4" font-size="35.5" textLength="20.88" lengthAdjust="spacingAndGlyphs">u</text>
<text x="344.20" y="694.4" font-size="35.5" textLength="14.58" lengthAdjust="spacingAndGlyphs">r</text>
<text x="356.20" y="694.4" font-size="35.5" textLength="15.45" lengthAdjust="spacingAndGlyphs">r</text>
<text x="372.20" y="694.4" font-size="35.5" textLength="19.92" lengthAdjust="spacingAndGlyphs">e</text>
<text x="392.00" y="694.4" font-size="35.5" textLength="21.26" lengthAdjust="spacingAndGlyphs">n</text>
<text x="413.00" y="694.4" font-size="35.5" textLength="12.26" lengthAdjust="spacingAndGlyphs">t</text>
<text x="435.00" y="694.4" font-size="35.5" textLength="21.26" lengthAdjust="spacingAndGlyphs">d</text>
<text x="455.20" y="694.4" font-size="35.5" textLength="19.92" lengthAdjust="spacingAndGlyphs">e</text>
<text x="475.00" y="694.4" font-size="35.5" textLength="21.26" lengthAdjust="spacingAndGlyphs">n</text>
<text x="495.00" y="694.4" font-size="35.5" textLength="15.52" lengthAdjust="spacingAndGlyphs">s</text>
<text x="495.55" y="694.4" font-size="35.5" textLength="15.52" lengthAdjust="spacingAndGlyphs">s</text>
<text x="496.10" y="694.4" font-size="35.5" textLength="15.52" lengthAdjust="spacingAndGlyphs">s</text>
<text x="510.80" y="694.4" font-size="35.5">i</text>
<text x="519.60" y="694.4" font-size="35.5" textLength="12.26" lengthAdjust="spacingAndGlyphs">t</text>
<text x="532.60" y="694.4" font-size="35.5" textLength="19.99" lengthAdjust="spacingAndGlyphs">y</text>
<text x="550.60" y="694.4" font-size="35.5">,</text>
<text x="571.80" y="694.4" font-size="35.5" textLength="31.59" lengthAdjust="spacingAndGlyphs">m</text>
<text x="600.60" y="694.4" font-size="35.5" textLength="25.91" lengthAdjust="spacingAndGlyphs">A</text>
<text x="643.00" y="694.4" font-size="35.5" textLength="19.53" lengthAdjust="spacingAndGlyphs">c</text>
<text x="660.40" y="694.4" font-size="35.5" textLength="30.75" lengthAdjust="spacingAndGlyphs">m</text>
<path d="M627.2 699.2 H631.3 L642.5 666.4 H638.4 Z" fill="#000"/>
<text x="691.5" y="682.5" font-size="21">2</text>
<g transform="translate(31.2 0) rotate(-90)">
<text x="-436.00" y="0" font-size="36.5" font-style="italic" textLength="16.64" lengthAdjust="spacingAndGlyphs">E</text>
<text x="-435.16" y="0" font-size="36.5" font-style="italic" textLength="16.64" lengthAdjust="spacingAndGlyphs">E</text>
<text x="-434.32" y="0" font-size="36.5" font-style="italic" textLength="16.64" lengthAdjust="spacingAndGlyphs">E</text>
<text x="-416.80" y="0" font-size="36.5">,</text>
<text x="-399.00" y="0" font-size="36.5" textLength="30.76" lengthAdjust="spacingAndGlyphs">m</text>
<text x="-365.00" y="0" font-size="36.5" textLength="23.14" lengthAdjust="spacingAndGlyphs">V</text>
<text x="-331.00" y="0" font-size="36.5">(</text>
<text x="-318.00" y="0" font-size="36.5" textLength="12.36" lengthAdjust="spacingAndGlyphs">v</text>
<text x="-316.96" y="0" font-size="36.5" textLength="12.36" lengthAdjust="spacingAndGlyphs">v</text>
<text x="-315.93" y="0" font-size="36.5" textLength="12.36" lengthAdjust="spacingAndGlyphs">v</text>
<text x="-301.80" y="0" font-size="36.5" textLength="15.05" lengthAdjust="spacingAndGlyphs">s</text>
<text x="-301.11" y="0" font-size="36.5" textLength="15.05" lengthAdjust="spacingAndGlyphs">s</text>
<text x="-300.43" y="0" font-size="36.5" textLength="15.05" lengthAdjust="spacingAndGlyphs">s</text>
<text x="-283.40" y="0" font-size="36.5">.</text>
<text x="-265.20" y="0" font-size="36.5" font-style="italic" textLength="20.01" lengthAdjust="spacingAndGlyphs">S</text>
<text x="-264.73" y="0" font-size="36.5" font-style="italic" textLength="20.01" lengthAdjust="spacingAndGlyphs">S</text>
<text x="-264.25" y="0" font-size="36.5" font-style="italic" textLength="20.01" lengthAdjust="spacingAndGlyphs">S</text>
<text x="-243.80" y="0" font-size="36.5" font-style="italic" textLength="20.80" lengthAdjust="spacingAndGlyphs">C</text>
<text x="-243.24" y="0" font-size="36.5" font-style="italic" textLength="20.80" lengthAdjust="spacingAndGlyphs">C</text>
<text x="-242.68" y="0" font-size="36.5" font-style="italic" textLength="20.80" lengthAdjust="spacingAndGlyphs">C</text>
<text x="-220.00" y="0" font-size="36.5" font-style="italic" textLength="10.37" lengthAdjust="spacingAndGlyphs">E</text>
<text x="-218.48" y="0" font-size="36.5" font-style="italic" textLength="10.37" lengthAdjust="spacingAndGlyphs">E</text>
<text x="-216.96" y="0" font-size="36.5" font-style="italic" textLength="10.37" lengthAdjust="spacingAndGlyphs">E</text>
<text x="-203.20" y="0" font-size="36.5">)</text>
</g>
<text x="164" y="54.0" font-size="22.6" textLength="127.5" lengthAdjust="spacingAndGlyphs">0.5 M NaCl</text>
<text x="165.5" y="88.3" font-size="23" textLength="30" lengthAdjust="spacingAndGlyphs">[1]</text>
<text x="228.5" y="88.1" font-size="22.6" textLength="88.5" lengthAdjust="spacingAndGlyphs">0.3 GPa</text>
<text x="165.5" y="122.7" font-size="23" textLength="30" lengthAdjust="spacingAndGlyphs">[2]</text>
<text x="228.5" y="122.5" font-size="22.6" textLength="88.5" lengthAdjust="spacingAndGlyphs">0.7 GPa</text>
<text x="165.5" y="157.3" font-size="23" textLength="30" lengthAdjust="spacingAndGlyphs">[3]</text>
<text x="228.5" y="157.1" font-size="22.6" textLength="88.5" lengthAdjust="spacingAndGlyphs">1.0 GPa</text>
<text x="165.5" y="191.7" font-size="23" textLength="30" lengthAdjust="spacingAndGlyphs">[4]</text>
<text x="228.5" y="191.5" font-size="22.6" textLength="88.5" lengthAdjust="spacingAndGlyphs">1.4 GPa</text>
<text x="165.5" y="224.7" font-size="23" textLength="30" lengthAdjust="spacingAndGlyphs">[5]</text>
<text x="228.5" y="224.5" font-size="22.6" textLength="88.5" lengthAdjust="spacingAndGlyphs">1.7 GPa</text>
<text x="467.5" y="201.0" font-size="13" textLength="16.6" lengthAdjust="spacingAndGlyphs" fill="#1a1a22">[5]</text>
<text x="562.5" y="199.2" font-size="13" textLength="16.6" lengthAdjust="spacingAndGlyphs" fill="#1a1a22">[4]</text>
<text x="624.4" y="200.3" font-size="13" textLength="16.6" lengthAdjust="spacingAndGlyphs" fill="#1a1a22">[3]</text>
<text x="730.2" y="198.1" font-size="13" textLength="16.6" lengthAdjust="spacingAndGlyphs" fill="#1a1a22">[2]</text>
<text x="830.7" y="204.8" font-size="13" textLength="16.6" lengthAdjust="spacingAndGlyphs" fill="#1a1a22">[1]</text>
<text x="665.7" y="431.1" font-size="13" textLength="16.6" lengthAdjust="spacingAndGlyphs" fill="#1a1a22">[5]</text>
<text x="729.2" y="485.3" font-size="13" textLength="16.6" lengthAdjust="spacingAndGlyphs" fill="#1a1a22">[4]</text>
<text x="805.2" y="504.6" font-size="13" textLength="16.6" lengthAdjust="spacingAndGlyphs" fill="#1a1a22">[3]</text>
<text x="855.7" y="538.7" font-size="13" textLength="16.6" lengthAdjust="spacingAndGlyphs" fill="#1a1a22">[1]</text>
<text x="740.3" y="566.0" font-size="13" textLength="16.6" lengthAdjust="spacingAndGlyphs" fill="#1a1a22">[2]</text>
</g>
</svg>
</body></html>
